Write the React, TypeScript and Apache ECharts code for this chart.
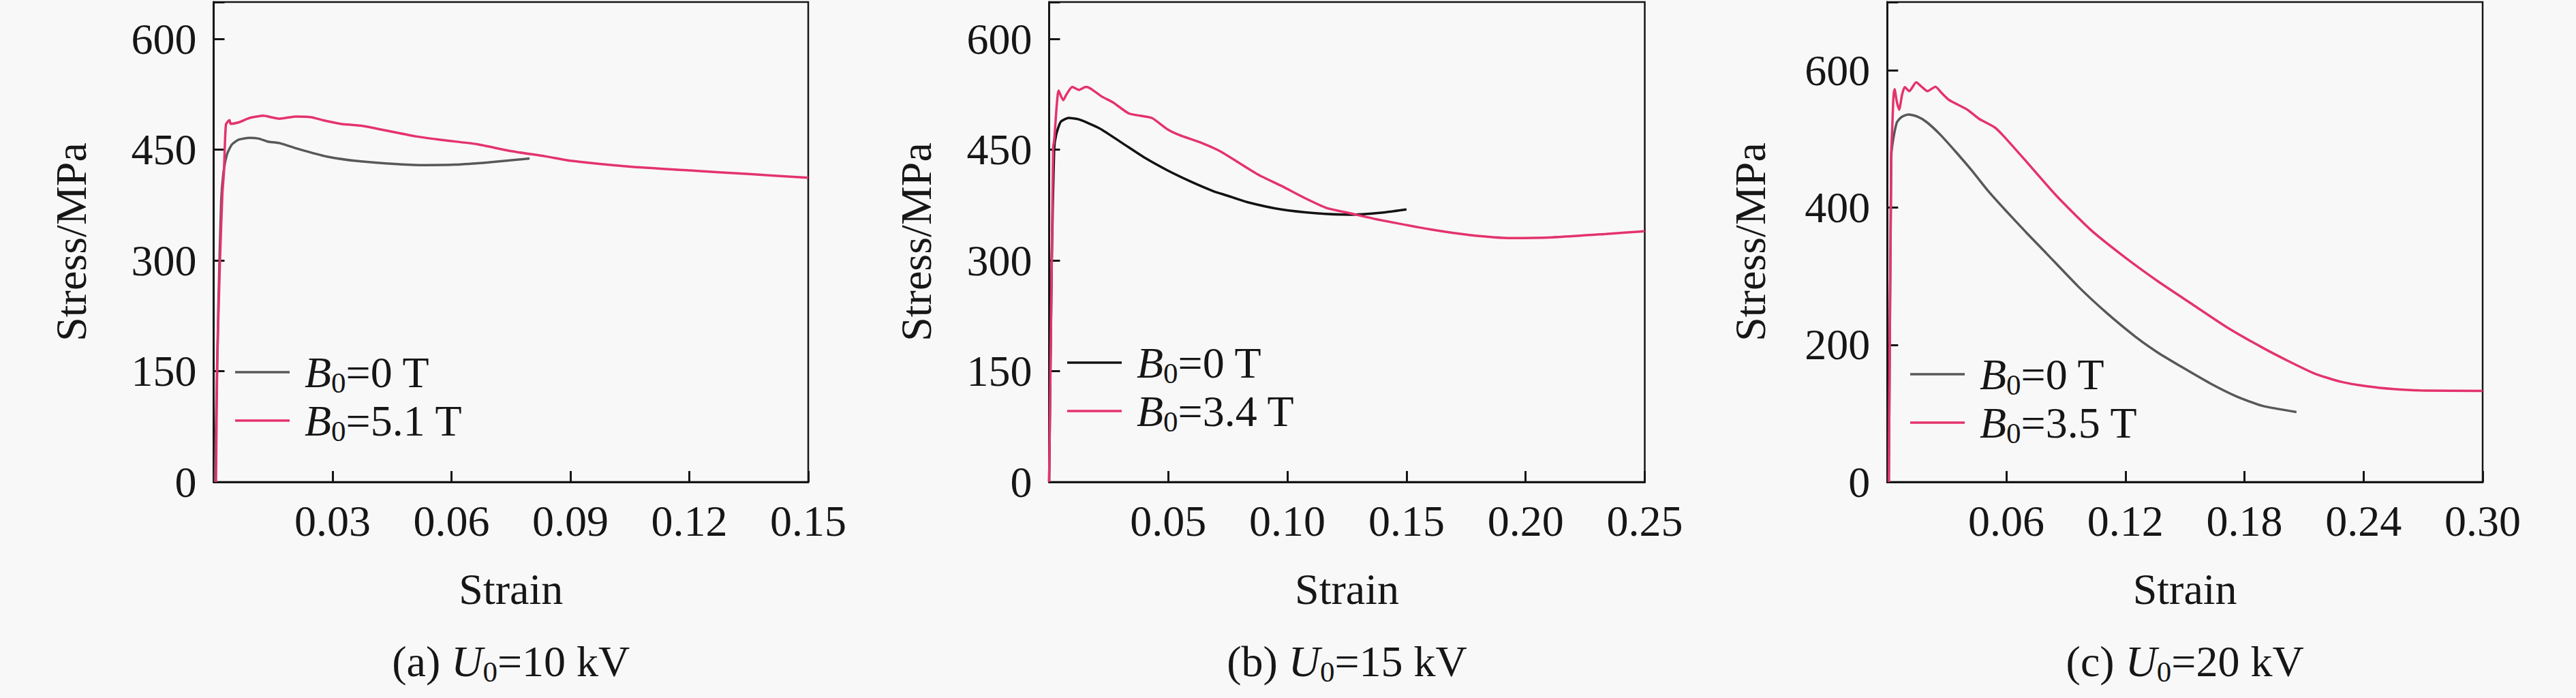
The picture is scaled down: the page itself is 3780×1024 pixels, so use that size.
import React, { useEffect, useRef } from "react";
import * as echarts from "echarts";

// ---------- data ----------
// (a) U0 = 10 kV
const aStrain0 = [0.0003, 0.0012, 0.0019, 0.0025, 0.0034, 0.0046, 0.0063, 0.009, 0.0114, 0.0137, 0.0166, 0.0217, 0.0286, 0.0355, 0.0435, 0.0521, 0.0607, 0.0693, 0.0797];
const aStress0 = [0, 240, 380, 420, 444, 457, 463.6, 466, 465, 461, 459, 450.4, 440.6, 435, 431.3, 429.2, 429.8, 432.9, 438];
const aStrain1 = [0.0006, 0.0009, 0.0016, 0.0022, 0.0026, 0.0031, 0.004, 0.0043, 0.0063, 0.0091, 0.0126, 0.0145, 0.0166, 0.0206, 0.0246, 0.0275, 0.0321, 0.0378, 0.0435, 0.051, 0.0579, 0.0664, 0.0751, 0.0837, 0.09, 0.105, 0.12, 0.135, 0.15];
const aStress1 = [0, 160, 300, 390, 420, 484, 490, 485, 487, 493, 496, 494, 492, 495, 494, 490, 485, 482, 476, 468, 463, 457.5, 448, 441, 435, 427, 422, 417, 412];

// (b) U0 = 15 kV
const bStrain0 = [0, 0.0011, 0.0021, 0.003, 0.0049, 0.0082, 0.0125, 0.0211, 0.0307, 0.0402, 0.0497, 0.0593, 0.0688, 0.0746, 0.0831, 0.0975, 0.1118, 0.1261, 0.1404, 0.15];
const bStress0 = [0, 299, 450, 471, 488, 493, 491, 479, 459, 439, 422, 407, 394, 388, 379, 369, 364, 362, 365, 369];
const bStrain1 = [0, 0.0011, 0.0017, 0.0021, 0.004, 0.0059, 0.0073, 0.0097, 0.0125, 0.0154, 0.0173, 0.0221, 0.0268, 0.0335, 0.0383, 0.0431, 0.0497, 0.0545, 0.0641, 0.0717, 0.0803, 0.0879, 0.0975, 0.107, 0.1165, 0.1261, 0.1371, 0.16, 0.1769, 0.194, 0.2111, 0.2338, 0.25];
const bStress1 = [0, 299, 454, 462, 530, 517, 525, 535, 531, 535, 533, 522, 514, 499, 496, 493, 477.5, 470, 459, 448, 431, 416, 401, 385, 371, 364, 356, 342, 334.3, 330.4, 331.3, 335.9, 339.6];

// (c) U0 = 20 kV
const cStrain0 = [0.0008, 0.002, 0.0025, 0.0048, 0.0071, 0.0106, 0.0151, 0.0198, 0.0266, 0.0347, 0.0427, 0.0507, 0.06, 0.07, 0.08, 0.0966, 0.11, 0.125, 0.1362, 0.1494, 0.1626, 0.1758, 0.189, 0.2062];
const cStress0 = [0, 470, 490, 524, 532, 536, 533, 525, 507, 481, 454, 425, 395, 364, 334, 284, 248, 212, 189, 166, 144, 125, 111, 102];
const cStrain1 = [0.0008, 0.002, 0.0025, 0.0031, 0.0037, 0.0048, 0.006, 0.0075, 0.0088, 0.0111, 0.0146, 0.0175, 0.0203, 0.0243, 0.0272, 0.0312, 0.0404, 0.0461, 0.0542, 0.0588, 0.0702, 0.0852, 0.1024, 0.1196, 0.1368, 0.154, 0.1712, 0.189, 0.2023, 0.2154, 0.2287, 0.2419, 0.2551, 0.2683, 0.3];
const cStress1 = [0, 480, 514, 560, 573, 555, 543, 565, 576, 570, 583, 576, 570, 576.5, 568, 557, 543, 530, 517, 504, 467, 417.6, 368, 328, 291.8, 258.6, 225.5, 196, 176, 158, 146, 139.4, 135.4, 133.4, 132.8];

const legendA = ["0 T", "5.1 T"];
const legendB = ["0 T", "3.4 T"];
const legendC = ["0 T", "3.5 T"];
const captions = [
  ["(a) ", "10 kV"],
  ["(b) ", "15 kV"],
  ["(c) ", "20 kV"],
];
const xMax = [0.15, 0.25, 0.3];
const xStep = [0.03, 0.05, 0.06];
const yMax = [650, 650, 700];
const yStep = [150, 150, 200];

// ---------- styles ----------
const FONT = "'Liberation Serif', 'Times New Roman', serif";
const INK = "#161616";
const PINK = "#E4336C";
const GRAY = "#585858";
const BLACK = "#121212";
const FS = 64;
const LW = 3.5;

const rich = {
  n: { fontSize: FS, fontFamily: FONT, lineHeight: 74, verticalAlign: "middle", color: INK },
  i: { fontSize: FS, fontFamily: FONT, fontStyle: "italic", lineHeight: 74, verticalAlign: "middle", color: INK },
  s: { fontSize: 43, fontFamily: FONT, lineHeight: 32, verticalAlign: "bottom", color: INK },
  g: { width: 17, lineHeight: 74, fontSize: 10, fontFamily: FONT },
};

const pairs = (xs: number[], ys: number[]) => xs.map((x, i) => [x, ys[i]]);

export default function App() {
  const ref = useRef<HTMLDivElement>(null);
  useEffect(() => {
    document.body.style.margin = "0";
    if (!ref.current) return;
    const chart = echarts.init(ref.current, undefined, { renderer: "svg" });

    const grids = [
      { left: 313.5, top: 3, width: 872.5, height: 704 },
      { left: 1539.5, top: 3, width: 874, height: 704 },
      { left: 2769.3, top: 3, width: 873.7, height: 704 },
    ];
    const yNameGap = [177, 163, 169];
    const legendPos = [
      { left: 345, top: 514 },
      { left: 1566, top: 500 },
      { left: 2803, top: 517 },
    ];
    const legendTexts = [legendA, legendB, legendC];
    const colors = [
      [GRAY, PINK],
      [BLACK, PINK],
      [GRAY, PINK],
    ];
    const data = [
      [pairs(aStrain0, aStress0), pairs(aStrain1, aStress1)],
      [pairs(bStrain0, bStress0), pairs(bStrain1, bStress1)],
      [pairs(cStrain0, cStress0), pairs(cStrain1, cStress1)],
    ];

    const axisTextStyle = { fontSize: FS, fontFamily: FONT, color: INK };

    const xAxis = grids.map((_, k) => ({
      type: "value",
      gridIndex: k,
      min: 0,
      max: xMax[k],
      interval: xStep[k],
      name: "Strain",
      nameLocation: "middle",
      nameGap: 125,
      nameTextStyle: axisTextStyle,
      axisLine: { show: true, onZero: false, lineStyle: { color: INK, width: 3 } },
      axisTick: { show: true, inside: true, length: 16, lineStyle: { color: INK, width: 3 } },
      axisLabel: {
        ...axisTextStyle,
        margin: 25,
        formatter: (v: number) => (v === 0 ? "" : v.toFixed(2)),
      },
      splitLine: { show: false },
    }));

    const yAxis = grids.map((_, k) => ({
      type: "value",
      gridIndex: k,
      min: 0,
      max: yMax[k],
      interval: yStep[k],
      name: "Stress/MPa",
      nameLocation: "middle",
      nameGap: yNameGap[k],
      nameTextStyle: axisTextStyle,
      axisLine: { show: true, onZero: false, lineStyle: { color: INK, width: 3 } },
      axisTick: { show: true, inside: true, length: 16, lineStyle: { color: INK, width: 3 } },
      axisLabel: {
        ...axisTextStyle,
        margin: 25,
        formatter: (v: number) => (v === yMax[k] ? "" : String(v)),
      },
      splitLine: { show: false },
    }));

    const series: any[] = [];
    const legends: any[] = [];
    grids.forEach((_, k) => {
      const names = ["p" + k + "s0", "p" + k + "s1"];
      names.forEach((nm, j) => {
        series.push({
          type: "line",
          name: nm,
          xAxisIndex: k,
          yAxisIndex: k,
          data: data[k][j],
          showSymbol: false,
          symbol: "none",
          smooth: 0.2,
          lineStyle: { color: colors[k][j], width: LW },
          itemStyle: { color: colors[k][j] },
          z: 2 + j,
        });
      });
      legends.push({
        orient: "vertical",
        left: legendPos[k].left,
        top: legendPos[k].top,
        padding: 0,
        itemGap: 2,
        itemWidth: 80,
        itemHeight: LW,
        icon: "rect",
        selectedMode: false,
        data: names,
        formatter: (name: string) => {
          const idx = names.indexOf(name);
          return "{g| }{i|B}{s|0}{n|=" + legendTexts[k][idx] + "}";
        },
        textStyle: { fontFamily: FONT, fontSize: FS, color: INK, rich },
      });
    });

    const graphic = grids.map((g, k) => ({
      type: "text",
      x: g.left + g.width / 2,
      y: 970,
      style: {
        text: "{n|" + captions[k][0] + "}{i|U}{s|0}{n|=" + captions[k][1] + "}",
        rich,
        font: FS + "px " + FONT,
        align: "center",
        verticalAlign: "middle",
        textAlign: "center",
        textVerticalAlign: "middle",
        fill: INK,
      },
    }));

    chart.setOption({
      animation: false,
      backgroundColor: "#f8f8f8",
      textStyle: { fontFamily: FONT },
      grid: grids.map((g) => ({
        ...g,
        show: true,
        borderColor: INK,
        borderWidth: 2.5,
        backgroundColor: "transparent",
        containLabel: false,
      })),
      xAxis,
      yAxis,
      legend: legends,
      series,
      graphic,
    });

    return () => chart.dispose();
  }, []);

  return <div ref={ref} style={{ width: 3780, height: 1024 }} />;
}
